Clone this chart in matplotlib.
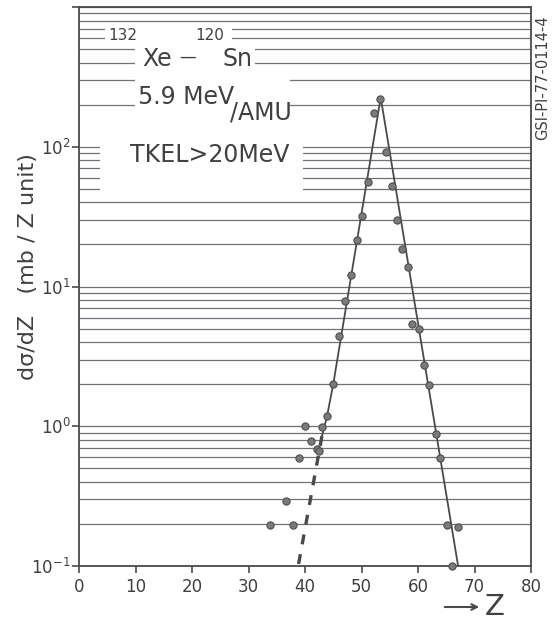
import matplotlib
matplotlib.use("Agg")
import matplotlib.pyplot as plt
from matplotlib.patches import Rectangle
from matplotlib.ticker import LogLocator, NullFormatter, FixedLocator

# measured points (Z, dsigma/dZ in mb per Z unit)
z_points = [33.8, 36.6, 37.9, 38.9, 40.0, 41.0, 42.1, 42.4, 43.0, 43.9,
            45.0, 46.0, 47.1, 48.1, 49.2, 50.1, 51.2, 52.2, 53.3, 54.3,
            55.4, 56.3, 57.2, 58.3, 58.9, 60.2, 61.1, 62.0, 63.2, 63.9,
            65.1, 66.0, 67.1]
y_points = [0.197, 0.29, 0.197, 0.59, 1.0, 0.79, 0.69, 0.67, 0.98, 1.18,
            2.0, 4.4, 7.9, 12.0, 21.4, 31.9, 56.0, 173.0, 221.0, 92.0,
            52.0, 29.9, 18.7, 13.9, 5.4, 5.0, 2.75, 1.97, 0.875, 0.59,
            0.195, 0.10, 0.19]

# hand drawn curves
fit_left_z = [43.0, 43.9, 45.0, 53.4]
fit_left_y = [0.85, 1.18, 2.0, 225.0]
fit_right_z = [53.4, 67.1]
fit_right_y = [225.0, 0.1]
dash_z = [43.0, 38.8]
dash_y = [0.85, 0.1]

x_ticks = [0, 10, 20, 30, 40, 50, 60, 70, 80]
y_ticks = [0.1, 1, 10, 100]
y_ticklabels = ['$10^{-1}$', '$10^{0}$', '$10^{1}$', '$10^{2}$']

W, H = 553, 624
ink = '#4a4a4e'
paper_line = '#707078'


def fx(px):
    return px / W


def fy(py):
    return 1 - py / H


fig = plt.figure(figsize=(W / 100, H / 100), dpi=100)
ax = fig.add_axes([fx(79), fy(566), (531 - 79) / W, (566 - 7) / H])

ax.set_yscale('log')
ax.set_xlim(0, 80)
ax.set_ylim(0.1, 1000)

ax.set_axisbelow(True)
ax.yaxis.set_major_locator(FixedLocator(y_ticks + [1000]))
ax.set_yticklabels(y_ticklabels + [''])
ax.yaxis.set_minor_locator(LogLocator(base=10, subs=range(2, 10)))
ax.yaxis.set_minor_formatter(NullFormatter())
ax.yaxis.grid(True, which='both', color=paper_line, lw=0.9)
ax.set_xticks(x_ticks)
ax.tick_params(axis='both', which='major', direction='out', length=5,
               width=1.2, color=ink, labelcolor='#404040', labelsize=12)
ax.tick_params(axis='y', which='minor', length=0)
ax.tick_params(axis='y', which='major', pad=1)
for s in ax.spines.values():
    s.set_color(ink)
    s.set_linewidth(1.3)

# blank paper behind the lettering
for x0, y0, x1, y1 in [(105, 24, 232, 44), (135, 44, 255, 70),
                       (135, 70, 290, 128), (100, 130, 303, 193)]:
    ax.add_patch(Rectangle((fx(x0), fy(y1)), (x1 - x0) / W, (y1 - y0) / H,
                           transform=fig.transFigure, facecolor='white',
                           edgecolor='none', zorder=1))

ax.plot(fit_left_z, fit_left_y, color=ink, lw=1.3, zorder=3)
ax.plot(fit_right_z, fit_right_y, color=ink, lw=1.3, zorder=3)
ax.plot(dash_z, dash_y, color=ink, lw=2.4, ls=(0, (3, 3)), zorder=3)
ax.plot(z_points, y_points, 'o', ms=5.2, color='#7a7a7a', mec='#4e4e4e',
        mew=0.8, zorder=4, clip_on=False)

txt = dict(color='#404040', va='center')
fig.text(fx(123), fy(36), '132', fontsize=11, ha='center', **txt)
fig.text(fx(157), fy(59), 'Xe', fontsize=17, ha='center', **txt)
fig.text(fx(188), fy(57), '\u2014', fontsize=12, ha='center', **txt)
fig.text(fx(210), fy(35), '120', fontsize=11, ha='center', **txt)
fig.text(fx(238), fy(59), 'Sn', fontsize=17, ha='center', **txt)
fig.text(fx(138), fy(97), '5.9 MeV', fontsize=17, ha='left', **txt)
fig.text(fx(230), fy(112), '/AMU', fontsize=17, ha='left', **txt)
fig.text(fx(130), fy(155), 'TKEL>20MeV', fontsize=17, ha='left', **txt)

fig.text(fx(28), fy(267), 'd\u03c3/dZ   (mb / Z unit)', fontsize=16,
         rotation=90, ha='center', **txt)
fig.text(fx(543), fy(78), 'GSI-PI-77-0114-4', fontsize=10.5, rotation=90,
         ha='center', **txt)

fig.text(fx(495), fy(607), 'Z', fontsize=21, ha='center', **txt)
ax.annotate('', xy=(fx(482), fy(607)), xytext=(fx(442), fy(607)),
            xycoords='figure fraction', textcoords='figure fraction',
            arrowprops=dict(arrowstyle='->', color=ink, lw=1.5))

fig.savefig('out.png', dpi=100)
